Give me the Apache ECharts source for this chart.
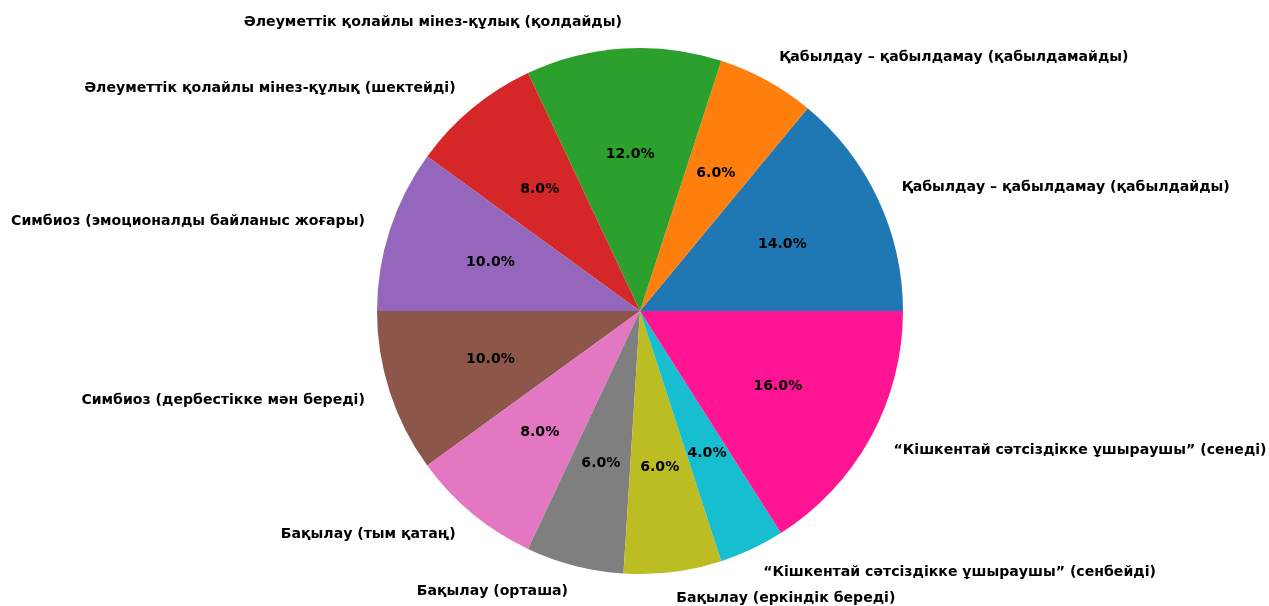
<!DOCTYPE html>
<html>
<head>
<meta charset="utf-8">
<script src="https://cdn.jsdelivr.net/npm/echarts@6/dist/echarts.min.js"></script>
<style>
html,body{margin:0;padding:0;background:#fff;}
#chart{width:1269px;height:606px;}
</style>
</head>
<body>
<div id="chart"></div>
<script>
const categories = [
  "Қабылдау – қабылдамау (қабылдайды)",
  "Қабылдау – қабылдамау (қабылдамайды)",
  "Әлеуметтік қолайлы мінез-құлық (қолдайды)",
  "Әлеуметтік қолайлы мінез-құлық (шектейді)",
  "Симбиоз (эмоционалды байланыс жоғары)",
  "Симбиоз (дербестікке мән береді)",
  "Бақылау (тым қатаң)",
  "Бақылау (орташа)",
  "Бақылау (еркіндік береді)",
  "“Кішкентай сәтсіздікке ұшыраушы” (сенбейді)",
  "“Кішкентай сәтсіздікке ұшыраушы” (сенеді)"
];
const values = [14, 6, 12, 8, 10, 10, 8, 6, 6, 4, 16];
const colors = ["#1f77b4","#ff7f0e","#2ca02c","#d62728","#9467bd","#8c564b","#e377c2","#7f7f7f","#bcbd22","#17becf","#ff1493"];

const R = 263;
const C = [640, 311];
const font = {fontFamily: "DejaVu Sans", fontWeight: "bold", fontSize: 14.1, color: "#000"};
const total = values.reduce((a, b) => a + b, 0);

const data = categories.map((name, i) => ({name, value: values[i], itemStyle: {color: colors[i]}}));

const chart = echarts.init(document.getElementById('chart'), null, {renderer: 'canvas'});
chart.setOption({
  animation: false,
  backgroundColor: '#fff',
  series: [
    {
      type: 'pie',
      center: C,
      radius: [0, R],
      startAngle: 0,
      clockwise: false,
      avoidLabelOverlap: false,
      emphasis: {disabled: true},
      itemStyle: {borderWidth: 0},
      label: Object.assign({show: true, position: 'outside', distanceToLabelLine: 0, formatter: '{b}'}, font),
      labelLine: {show: false, length: R * 0.1, length2: 0},
      data: data
    },
    {
      type: 'pie',
      center: C,
      radius: [R * 0.2 - 7, R],
      startAngle: 0,
      clockwise: false,
      avoidLabelOverlap: false,
      silent: true,
      emphasis: {disabled: true},
      itemStyle: {color: 'transparent', borderWidth: 0},
      label: Object.assign({show: true, position: 'inside',
        formatter: p => (p.value / total * 100).toFixed(1) + '%'}, font),
      labelLine: {show: false},
      data: categories.map((name, i) => ({name, value: values[i]}))
    }
  ]
});
</script>
</body>
</html>
